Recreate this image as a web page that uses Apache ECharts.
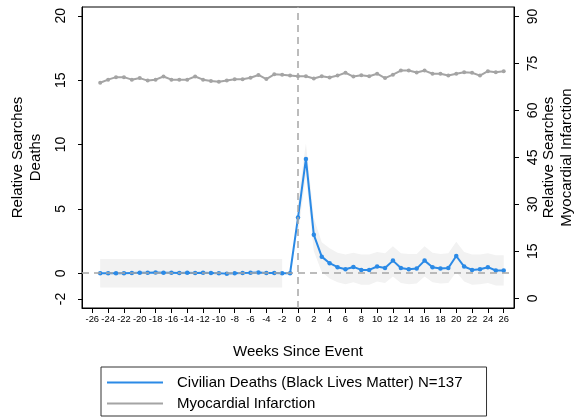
<!DOCTYPE html>
<html>
<head>
<meta charset="utf-8">
<script src="https://cdn.jsdelivr.net/npm/echarts@6/dist/echarts.min.js"></script>
<style>
  html, body { margin: 0; padding: 0; background: #fff; }
  #chart { width: 586px; height: 420px; }
</style>
</head>
<body>
<div id="chart"></div>
<script>
// weeks -25 .. 26
const weeks = []
for (let w = -25; w <= 26; w++) weeks.push(w)

const xTicks = [-26, -24, -22, -20, -18, -16, -14, -12, -10, -8, -6, -4, -2, 0, 2, 4, 6, 8, 10, 12, 14, 16, 18, 20, 22, 24, 26]
const leftTicks = [-2, 0, 5, 10, 15, 20]
const rightTicks = [0, 15, 30, 45, 60, 75, 90]

// civilian deaths, weeks -25 .. 26
const deaths = [
  0.0, 0.0, 0.0, 0.0, 0.02, 0.03, 0.04, 0.05, 0.04, 0.03, 0.02, 0.03, 0.02,
  0.04, 0.02, 0.0, -0.03, 0.0, 0.02, 0.03, 0.05, 0.02, 0.01, 0.0, 0.0,
  4.32, 8.88, 2.98, 1.29, 0.78, 0.47, 0.31, 0.49, 0.26, 0.26, 0.52, 0.41, 0.98,
  0.41, 0.31, 0.36, 0.98, 0.47, 0.36, 0.41, 1.34, 0.52, 0.26, 0.31, 0.47, 0.21, 0.21
]

// myocardial infarction, weeks -25 .. 26
const infarction = [
  68.8, 69.8, 70.6, 70.6, 69.8, 70.3, 69.5, 69.8, 70.8, 69.8, 69.8, 69.8, 70.8,
  69.8, 69.4, 69.1, 69.5, 69.9, 69.9, 70.4, 71.3, 70.0, 71.5, 71.4, 71.1,
  70.9, 70.9, 70.2, 70.9, 70.5, 71.1, 72.0, 70.8, 71.2, 70.9, 71.7, 70.3, 71.4,
  72.7, 72.7, 72.1, 72.7, 71.7, 71.7, 71.1, 71.7, 72.2, 72.0, 71.1, 72.5, 72.2, 72.5
]

// confidence band before event, weeks -25 .. -2
const preWeeks = weeks.slice(0, 24)
const preLow = preWeeks.map(() => -1.1)
const preHigh = preWeeks.map(() => 1.1)

// confidence band after event, weeks 0 .. 26
const postWeeks = weeks.slice(25)
const postLow = [
  3.0, 7.6, 1.7, 0.1, -0.4, -0.7, -0.85, -0.7, -0.9, -0.9, -0.65, -0.75, -0.25,
  -0.75, -0.85, -0.8, -0.25, -0.7, -0.8, -0.75, 0.1, -0.65, -0.9, -0.85, -0.75, -0.95, -0.95
]
const postHigh = [
  5.6, 10.1, 4.3, 2.4, 1.95, 1.6, 1.45, 1.6, 1.45, 1.45, 1.65, 1.55, 2.1,
  1.55, 1.5, 1.5, 2.1, 1.6, 1.5, 1.55, 2.45, 1.65, 1.45, 1.45, 1.55, 1.4, 1.4
]

const nameDeaths = 'Civilian Deaths (Black Lives Matter) N=137'
const nameMI = 'Myocardial Infarction'
const font = 'Liberation Sans, Arial, sans-serif'
const bandColor = '#f2f2f2'

const pair = (xs, ys) => xs.map((x, i) => [x, ys[i]])

// one polygon per band, drawn once through the axis scales
function band(xs, low, high) {
  return {
    type: 'custom', silent: true, z: 1,
    data: xs.map((x, i) => [x, low[i], high[i]]),
    encode: { x: 0, y: [1, 2] },
    renderItem: function (params, api) {
      if (params.dataIndex !== 0) return null
      const top = xs.map((x, i) => api.coord([x, high[i]]))
      const bottom = xs.map((x, i) => api.coord([x, low[i]])).reverse()
      return {
        type: 'polygon',
        shape: { points: top.concat(bottom) },
        style: { fill: bandColor, stroke: null }
      }
    }
  }
}

const myChart = echarts.init(document.getElementById('chart'))

myChart.setOption({
  animation: false,
  textStyle: { fontFamily: font },
  grid: {
    left: 82, right: 72, top: 7, bottom: 112,
    outerBoundsMode: 'none', containLabel: false,
    show: true, borderColor: '#000', borderWidth: 1
  },
  legend: {
    data: [nameDeaths, nameMI],
    orient: 'vertical',
    left: 101, top: 367,
    padding: [8, 24, 5, 6],
    itemGap: 6,
    itemWidth: 56, itemHeight: 2,
    icon: 'rect',
    borderColor: '#333', borderWidth: 1, borderRadius: 0,
    textStyle: { fontSize: 15, lineHeight: 15, color: '#000', fontFamily: font, padding: [0, 0, 0, 9] }
  },
  xAxis: {
    type: 'value', min: -27.3, max: 27.3,
    name: 'Weeks Since Event', nameLocation: 'middle', nameGap: 36,
    nameTextStyle: { fontSize: 15, color: '#000', fontFamily: font },
    axisLine: { show: true, onZero: false, lineStyle: { color: '#000', width: 1 } },
    axisTick: { show: true, length: 5, customValues: xTicks, lineStyle: { color: '#000' } },
    axisLabel: { customValues: xTicks, fontSize: 9.4, color: '#000', margin: 7 },
    splitLine: { show: false }
  },
  yAxis: [
    {
      type: 'value', min: -2.7, max: 20.68, position: 'left',
      name: 'Relative Searches\nDeaths', nameLocation: 'middle', nameRotate: 90, nameGap: 37,
      nameTextStyle: { fontSize: 15, lineHeight: 18, color: '#000', fontFamily: font },
      axisLine: { show: true, onZero: false, lineStyle: { color: '#000', width: 1 } },
      axisTick: { show: true, length: 4, customValues: leftTicks, lineStyle: { color: '#000' } },
      axisLabel: { customValues: leftTicks, rotate: 90, fontSize: 14, color: '#000', margin: 14 },
      splitLine: { show: false }
    },
    {
      type: 'value', min: -3.1, max: 93.0, position: 'right',
      name: 'Relative Searches\nMyocardial Infarction', nameLocation: 'middle', nameRotate: 90,
      nameGap: 26, nameMoveOverlap: false,
      nameTextStyle: { fontSize: 15, lineHeight: 18, color: '#000', fontFamily: font },
      axisLine: { show: true, onZero: false, lineStyle: { color: '#000', width: 1 } },
      axisTick: { show: true, length: 5, customValues: rightTicks, lineStyle: { color: '#000' } },
      axisLabel: { customValues: rightTicks, rotate: 90, fontSize: 14, color: '#000', margin: 12 },
      splitLine: { show: false }
    }
  ],
  series: [
    band(preWeeks, preLow, preHigh),
    band(postWeeks, postLow, postHigh),
    {
      type: 'line', silent: true, data: [], z: 2,
      markLine: {
        silent: true, symbol: 'none', label: { show: false },
        lineStyle: { color: '#a6a6a6', type: [7, 5], width: 1.5 },
        data: [{ xAxis: 0 }, { yAxis: 0 }]
      }
    },
    {
      name: nameMI, type: 'line', yAxisIndex: 1,
      data: pair(weeks, infarction),
      symbol: 'circle', symbolSize: 4,
      itemStyle: { color: '#a4a4a4' },
      lineStyle: { color: '#a4a4a4', width: 2 }, z: 3
    },
    {
      name: nameDeaths, type: 'line', yAxisIndex: 0,
      data: pair(weeks, deaths),
      symbol: 'circle', symbolSize: 4.5,
      itemStyle: { color: '#2b8ae6' },
      lineStyle: { color: '#2b8ae6', width: 2 }, z: 4
    }
  ]
})
</script>
</body>
</html>
